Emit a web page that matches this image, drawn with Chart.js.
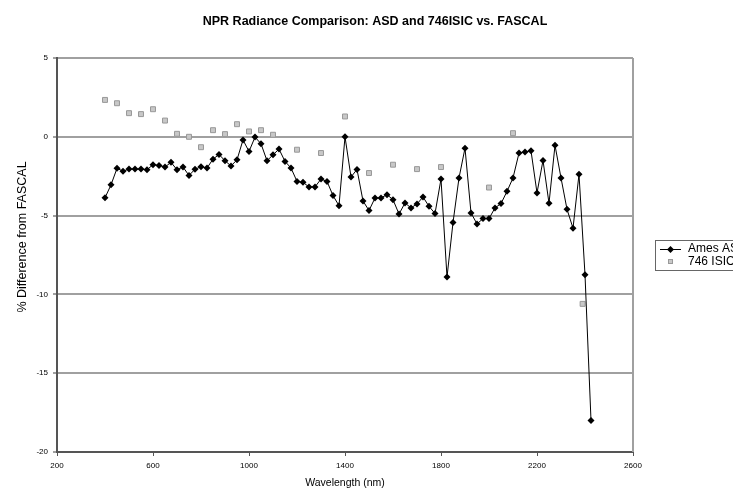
<!DOCTYPE html>
<html>
<head>
<meta charset="utf-8">
<script src="https://cdn.jsdelivr.net/npm/chart.js@4"></script>
<style>
  html, body { margin: 0; padding: 0; background: #fff; }
  #wrap { width: 733px; height: 489px; }
</style>
</head>
<body>
<div id="wrap"><canvas id="chart" width="733" height="489"></canvas></div>
<script>
// wavelength (nm) and % difference for the ASD series
const asdWavelength = [400, 425, 450, 475, 500, 525, 550, 575, 600, 625, 650, 675, 700, 725, 750, 775, 800, 825, 850, 875,
  900, 925, 950, 975, 1000, 1025, 1050, 1075, 1100, 1125, 1150, 1175, 1200, 1225, 1250, 1275, 1300, 1325, 1350, 1375,
  1400, 1425, 1450, 1475, 1500, 1525, 1550, 1575, 1600, 1625, 1650, 1675, 1700, 1725, 1750, 1775, 1800, 1825, 1850, 1875,
  1900, 1925, 1950, 1975, 2000, 2025, 2050, 2075, 2100, 2125, 2150, 2175, 2200, 2225, 2250, 2275, 2300, 2325, 2350, 2375,
  2400, 2425];
const asdDiff = [-3.87, -3.05, -2.0, -2.18, -2.05, -2.05, -2.05, -2.09, -1.77, -1.82, -1.92, -1.62, -2.09, -1.92, -2.45, -2.06, -1.9, -1.98, -1.42, -1.12,
  -1.52, -1.85, -1.46, -0.2, -0.93, -0.02, -0.44, -1.52, -1.14, -0.78, -1.56, -1.98, -2.83, -2.89, -3.18, -3.18, -2.68, -2.83, -3.73, -4.37,
  0.0, -2.55, -2.07, -4.07, -4.68, -3.88, -3.88, -3.67, -3.99, -4.9, -4.2, -4.51, -4.26, -3.82, -4.41, -4.87, -2.68, -8.9, -5.44, -2.61,
  -0.72, -4.83, -5.53, -5.19, -5.19, -4.51, -4.24, -3.46, -2.61, -1.03, -0.97, -0.89, -3.56, -1.5, -4.22, -0.54, -2.61, -4.6, -5.8, -2.38,
  -8.75, -18.0];

// 746 ISIC series
const isicWavelength = [400, 450, 500, 550, 600, 650, 700, 750, 800, 850, 900, 950, 1000, 1050, 1100, 1200, 1300, 1400, 1500, 1600, 1700, 1800, 2000, 2100, 2390];
const isicDiff = [2.34, 2.13, 1.5, 1.44, 1.75, 1.03, 0.19, 0.0, -0.66, 0.42, 0.17, 0.8, 0.34, 0.42, 0.13, -0.82, -1.03, 1.29, -2.3, -1.77, -2.05, -1.92, -3.22, 0.23, -10.6];

const seriesNames = ['Ames ASD', '746 ISIC'];
const xTicks = [200, 600, 1000, 1400, 1800, 2200, 2600];
const yTicks = [5, 0, -5, -10, -15, -20];

const chartTitle = 'NPR Radiance Comparison: ASD and 746ISIC vs. FASCAL';
const yTitle = '% Difference from FASCAL';

const FONT = 'Arial, "Liberation Sans", sans-serif';

const asdPoints = asdWavelength.map((x, i) => ({ x: x, y: asdDiff[i] }));
const isicPoints = isicWavelength.map((x, i) => ({ x: x, y: isicDiff[i] }));

// title, y title, plot frame on the right and legend box
const framePlugin = {
  id: 'frame',
  afterDraw(chart) {
    const ctx = chart.ctx;
    const a = chart.chartArea;
    ctx.save();
    ctx.strokeStyle = '#a0a0a0';
    ctx.lineWidth = 2;
    ctx.beginPath();
    ctx.moveTo(a.right, a.top);
    ctx.lineTo(a.right, a.bottom);
    ctx.stroke();

    ctx.fillStyle = '#000';
    ctx.textAlign = 'center';
    ctx.textBaseline = 'middle';
    ctx.font = 'bold 12.5px ' + FONT;
    ctx.fillText(chartTitle, 375, 22);

    ctx.save();
    ctx.translate(23, 237);
    ctx.rotate(-Math.PI / 2);
    ctx.font = '12.5px ' + FONT;
    ctx.fillText(yTitle, 0, 0);
    ctx.restore();

    // legend
    const lx = 655, ly = 240;
    ctx.textAlign = 'left';
    ctx.strokeStyle = '#666';
    ctx.lineWidth = 1;
    ctx.strokeRect(lx + 0.5, ly + 0.5, 90, 30);
    ctx.font = '12px ' + FONT;
    // ASD entry
    ctx.strokeStyle = '#000';
    ctx.beginPath();
    ctx.moveTo(lx + 5, ly + 9.5);
    ctx.lineTo(lx + 26, ly + 9.5);
    ctx.stroke();
    ctx.beginPath();
    ctx.moveTo(lx + 15.5, ly + 6);
    ctx.lineTo(lx + 19, ly + 9.5);
    ctx.lineTo(lx + 15.5, ly + 13);
    ctx.lineTo(lx + 12, ly + 9.5);
    ctx.closePath();
    ctx.fill();
    ctx.fillText(seriesNames[0], lx + 33, ly + 9);
    // ISIC entry
    ctx.fillStyle = '#c8c8c8';
    ctx.fillRect(lx + 13, ly + 19, 5, 5);
    ctx.strokeStyle = '#999';
    ctx.strokeRect(lx + 13.5, ly + 19.5, 4, 4);
    ctx.fillStyle = '#000';
    ctx.fillText(seriesNames[1], lx + 33, ly + 22);
    ctx.restore();
  }
};

new Chart(document.getElementById('chart'), {
  type: 'scatter',
  data: {
    datasets: [
      {
        label: seriesNames[0],
        data: asdPoints,
        showLine: true,
        borderColor: '#000',
        borderWidth: 1,
        backgroundColor: '#000',
        pointStyle: 'rectRot',
        pointRadius: 3.5,
        pointBorderWidth: 0
      },
      {
        label: seriesNames[1],
        data: isicPoints,
        showLine: false,
        borderColor: '#999',
        backgroundColor: '#c8c8c8',
        pointStyle: 'rect',
        pointRadius: 3.5,
        pointBorderWidth: 1
      }
    ]
  },
  options: {
    responsive: false,
    animation: false,
    layout: { padding: { left: 0, right: 100, top: 58, bottom: 0 } },
    plugins: {
      legend: { display: false },
      tooltip: { enabled: false },
      title: { display: false }
    },
    scales: {
      x: {
        type: 'linear',
        min: 200,
        max: 2600,
        afterBuildTicks(axis) { axis.ticks = xTicks.map(v => ({ value: v })); },
        afterFit(axis) { axis.height = 37; },
        ticks: {
          color: '#000',
          font: { family: FONT, size: 8 },
          padding: 5,
          maxRotation: 0,
          callback: v => String(v)
        },
        grid: { drawOnChartArea: false, color: '#555', tickLength: 4, lineWidth: 1 },
        border: { color: '#555', width: 2 },
        title: {
          display: true,
          text: 'Wavelength (nm)',
          color: '#000',
          font: { family: FONT, size: 10.5 },
          padding: { top: 0, bottom: 0 }
        }
      },
      y: {
        type: 'linear',
        min: -20,
        max: 5,
        afterBuildTicks(axis) { axis.ticks = yTicks.map(v => ({ value: v })); },
        afterFit(axis) { axis.width = 57; },
        ticks: { color: '#000', font: { family: FONT, size: 8 }, padding: 5 },
        grid: { color: '#a0a0a0', lineWidth: 2, tickLength: 4 },
        border: { color: '#555', width: 2 }
      }
    }
  },
  plugins: [framePlugin]
});
</script>
</body>
</html>
